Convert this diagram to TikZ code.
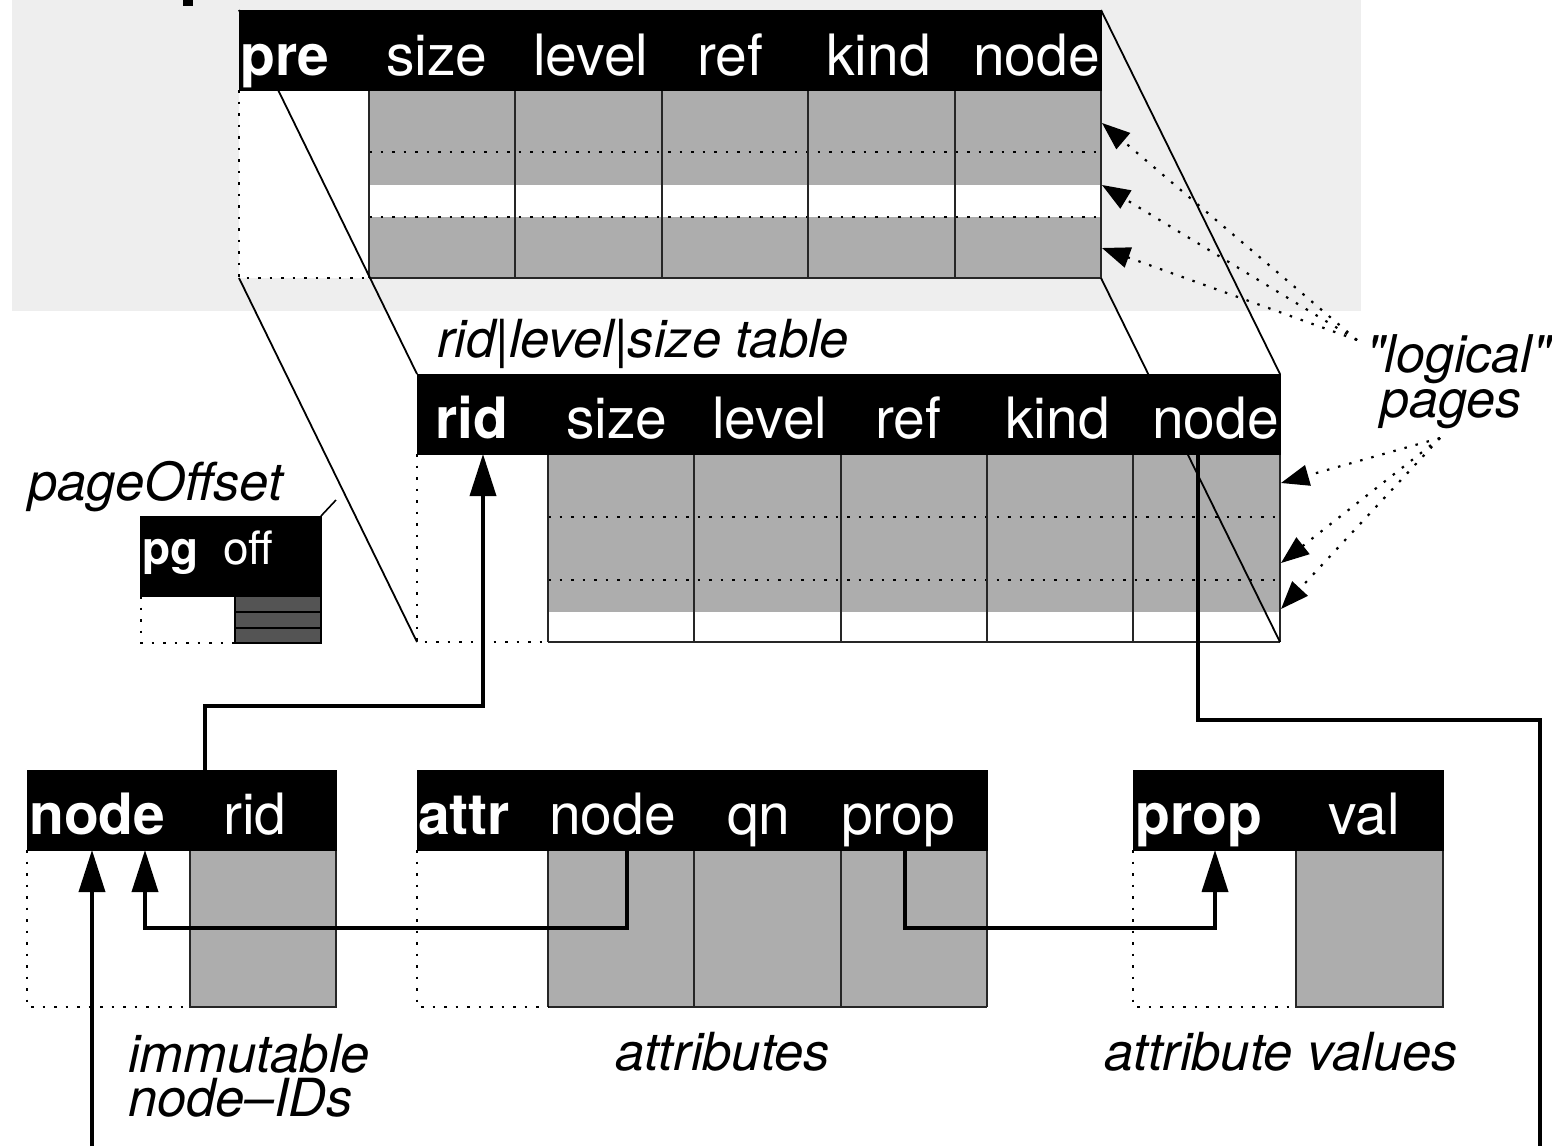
\documentclass[tikz,border=0pt]{standalone}
\usepackage{fontspec}
\setmainfont{TeX Gyre Heros}
\usetikzlibrary{arrows.meta}
\definecolor{panel}{gray}{0.935}
\definecolor{body}{gray}{0.68}
\definecolor{dark}{gray}{0.33}
\begin{document}
\begin{tikzpicture}[x=1pt,y=-1pt,
  hdr/.style={fill=black,draw=black,line width=1pt,anchor=north west,inner sep=0pt,outer sep=0pt},
  htxt/.style={text=white,anchor=base west,inner sep=0pt,font=\fontsize{57}{60}\selectfont},
  hkey/.style={htxt,font=\fontsize{57}{60}\selectfont\bfseries},
  stxt/.style={text=white,anchor=base west,inner sep=0pt,font=\fontsize{46}{48}\selectfont},
  skey/.style={stxt,font=\fontsize{46}{48}\selectfont\bfseries},
  lab/.style={anchor=base west,inner sep=0pt,font=\fontsize{52.5}{56}\selectfont\itshape},
  cell/.style={draw=black!85,line width=1.6pt},
  dotb/.style={line width=2pt,dash pattern=on 2.5pt off 9pt},
  proj/.style={line width=1.8pt},
  link/.style={line width=3.6pt},
  ptr/.style={link,-{Triangle[length=42pt,width=26pt]}},
  hint/.style={line width=2.2pt,dash pattern=on 2.5pt off 9pt,-{Triangle[length=28pt,width=21pt]}},
]
\useasboundingbox (0,0) rectangle (1552,1146);

% light panel behind the pre table
\fill[panel] (12,0) rectangle (1361,311);
\fill[black] (183,0) rectangle (193,6);

% ---------- pre table body ----------
\fill[white] (239,90) rectangle (369,278);
\fill[body] (369,90) rectangle (1101,185);
\fill[white] (369,185) rectangle (1101,217);
\fill[body] (369,217) rectangle (1101,278);
\draw[dotb] (369,152) -- (1101,152);
\draw[dotb] (369,217) -- (1101,217);
\foreach \x in {369,515,662,808,955,1101} \draw[cell] (\x,90) -- (\x,278);
\draw[cell] (369,278) -- (1101,278);
\draw[dotb] (239,90) -- (239,278) -- (369,278);

% ---------- rid table body ----------
\fill[body] (548,454) rectangle (1280,612);
\fill[white] (548,612) rectangle (1280,642);
\draw[dotb] (548,517) -- (1280,517);
\draw[dotb] (548,580) -- (1280,580);
\foreach \x in {548,694,841,987,1133,1280} \draw[cell] (\x,454) -- (\x,642);
\draw[cell] (548,642) -- (1280,642);
\draw[dotb] (417,454) -- (417,642) -- (548,642);

% projection edges between the two tables
\coordinate (pTL) at (239,10);   \coordinate (rTL) at (417,374);
\coordinate (pTR) at (1101,10);  \coordinate (rTR) at (1280,374);
\coordinate (pBL) at (239,278);  \coordinate (rBL) at (417,642);
\coordinate (pBR) at (1101,278); \coordinate (rBR) at (1280,642);
\draw[proj] (pTL) -- (rTL);
\draw[proj] (pTR) -- (rTR);
\draw[proj] (pBL) -- (rBL);
\draw[proj] (pBR) -- (rBR);

% ---------- headers ----------
\node[hdr,minimum width=862pt,minimum height=80pt] (preH) at (239,10) {};
\node[hkey] at (240,75) {pre};
\node[htxt] at (386,75) {size};
\node[htxt] at (533,75) {level};
\node[htxt] at (697,75) {ref};
\node[htxt] at (826,75) {kind};
\node[htxt] at (973,75) {node};

\node[lab] at (437,357) {rid|level|size table};
\node[hdr,minimum width=863pt,minimum height=80pt] (ridH) at (417,374) {};
\node[hkey] at (435,438) {rid};
\node[htxt] at (566,438) {size};
\node[htxt] at (712,438) {level};
\node[htxt] at (875,438) {ref};
\node[htxt] at (1005,438) {kind};
\node[htxt] at (1152,438) {node};

% ---------- pageOffset ----------
\node[lab] at (28,500) {pageOffset};
\fill[dark] (235,596) rectangle (321,643);
\draw[line width=1.6pt] (235,596) rectangle (321,643);
\draw[line width=1.6pt] (235,612) -- (321,612);
\draw[line width=1.6pt] (235,628) -- (321,628);
\draw[dotb] (141,596) -- (141,643) -- (235,643);
\node[hdr,minimum width=181pt,minimum height=80pt] (pgH) at (140,516) {};
\node[skey] at (142,564) {pg};
\node[stxt] at (223,564) {off};
\coordinate (pgTag) at (336,500);
\draw[line width=1.6pt] (pgH.north east) -- (pgTag);

% ---------- node table ----------
\fill[body] (190,850) rectangle (336,1007);
\draw[cell] (190,850) rectangle (336,1007);
\draw[dotb] (27,850) -- (27,1007) -- (190,1007);
\node[hdr,minimum width=309pt,minimum height=80pt] (nodeH) at (27,770) {};
\node[hkey] at (29,834) {node};
\node[htxt] at (223,834) {rid};
\node[anchor=north west,inner sep=0pt,align=left,
      font=\fontsize{52.5}{44}\selectfont\itshape] (nodeLab) at (128,1034)
      {immutable\\node--IDs};

% ---------- attr table ----------
\fill[body] (548,850) rectangle (987,1007);
\foreach \x in {548,694,841,987} \draw[cell] (\x,850) -- (\x,1007);
\draw[cell] (548,1007) -- (987,1007);
\draw[dotb] (417,850) -- (417,1007) -- (548,1007);
\node[hdr,minimum width=570pt,minimum height=80pt] (attrH) at (417,770) {};
\node[hkey] at (418,834) {attr};
\node[htxt] at (549,834) {node};
\node[htxt] at (727,834) {qn};
\node[htxt] at (841,834) {prop};
\node[lab] at (615,1070) {attributes};

% ---------- prop table ----------
\fill[body] (1296,850) rectangle (1443,1007);
\draw[cell] (1296,850) rectangle (1443,1007);
\draw[dotb] (1133,850) -- (1133,1007) -- (1296,1007);
\node[hdr,minimum width=310pt,minimum height=80pt] (propH) at (1133,770) {};
\node[hkey] at (1135,834) {prop};
\node[htxt] at (1328,834) {val};
\node[lab] at (1104,1070) {attribute values};

% ---------- references ----------
\coordinate (inNode) at (92,1146);
\coordinate (outRid) at (1540,1146);
\coordinate (nodeRef) at (205,770);
\coordinate (ridTip) at (483,454);
\coordinate (attrNode) at (627,850);
\coordinate (nodeTip) at (145,850);
\coordinate (attrProp) at (905,850);
\coordinate (propTip) at (1215,850);
\coordinate (ridNode) at (1198,454);
\draw[ptr] (inNode) -- (inNode |- nodeH.south);
\draw[ptr] (nodeRef) |- ([yshift=-252pt]ridTip) -- (ridTip);
\draw[ptr] (attrNode) |- ([yshift=-78pt]nodeTip) -- (nodeTip);
\draw[ptr] (attrProp) |- ([yshift=-78pt]propTip) -- (propTip);
\draw[link] (ridNode) |- ([yshift=426pt]outRid) -- (outRid);

% ---------- "logical" pages ----------
\node[anchor=north west,inner sep=0pt,align=left,
      font=\fontsize{52}{45}\selectfont\itshape] (lgLab) at (1366,334)
      {{\addfontfeatures{Ligatures=TeXOff}"logical"}\\\hspace*{14pt}pages};
\coordinate (lgUp) at (1357,340);
\coordinate (lgDn) at (1440,438);
\draw[hint] (lgUp) -- (1102,123);
\draw[hint] (lgUp) -- (1102,185);
\draw[hint] (lgUp) -- (1102,248);
\draw[hint] (lgDn) -- (1281,483);
\draw[hint] (lgDn) -- (1281,563);
\draw[hint] (lgDn) -- (1281,609);
\end{tikzpicture}
\end{document}
